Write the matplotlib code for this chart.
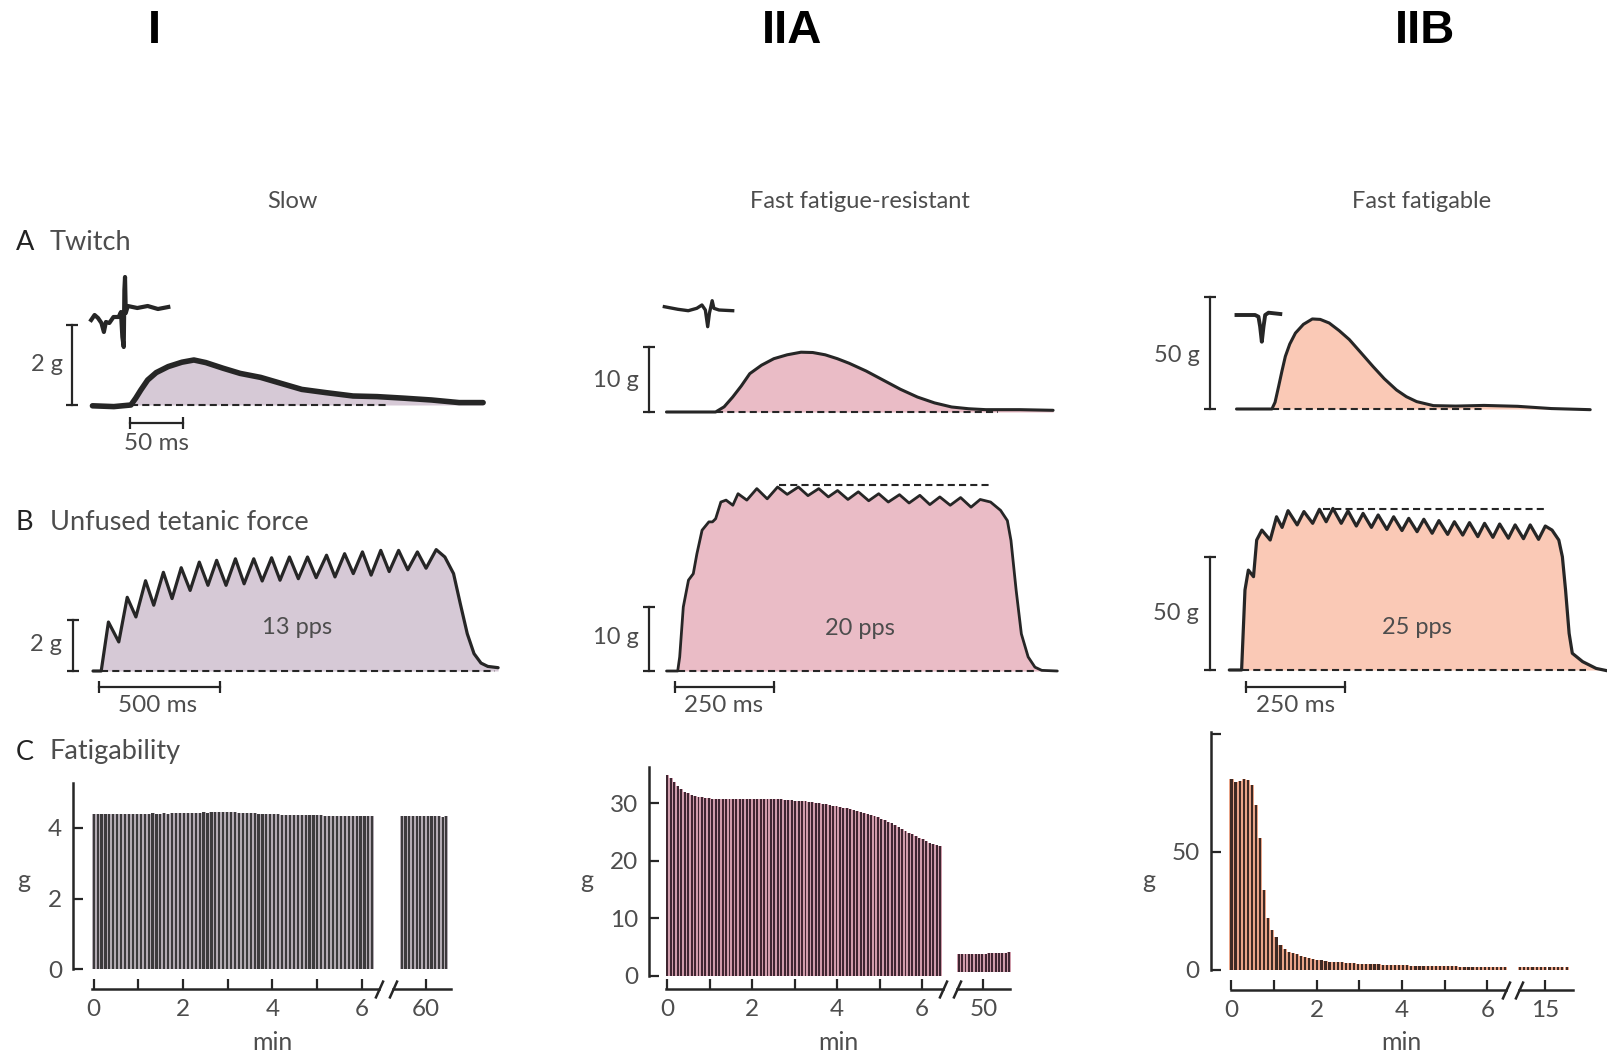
import numpy as np
import matplotlib
matplotlib.use("Agg")
import matplotlib.pyplot as plt

plt.rcParams['font.family'] = ['Lato', 'DejaVu Sans']

W, H = 1608, 1053
INK = '#262626'
TXT = '#4d4d4d'

# ---- A : twitch (time in ms, force in g) ----
slow_twitch_t = [-36, -16, 0, 4.5, 9.3, 15.7, 23.7, 34.9, 47.8, 59, 70.2, 86.2, 102.3, 121.5,
                 140.7, 160, 182.4, 208, 230.4, 256, 281.6, 307.4, 329.8]
slow_twitch_g = [-0.02, -0.04, 0, 0.17, 0.375, 0.625, 0.81, 0.96, 1.07, 1.125, 1.06, 0.92, 0.79, 0.69,
                 0.54, 0.39, 0.31, 0.225, 0.21, 0.17, 0.125, 0.06, 0.06]
fr_twitch_t = [-46, 0, 8, 16, 24, 32, 43, 54.5, 67, 80, 91, 102.6, 114, 125, 141, 157, 173, 189,
               205, 221, 237, 253, 285, 316]
fr_twitch_g = [0, 0, 0.8, 2.3, 4.0, 5.9, 7.2, 8.2, 8.8, 9.2, 9.15, 8.8, 8.2, 7.5, 6.3, 4.9, 3.5, 2.3,
               1.4, 0.77, 0.5, 0.36, 0.36, 0.26]
ff_twitch_t = [-33.7, 0, 3, 6.4, 9.6, 12.8, 17, 22.4, 30, 38.5, 46, 54.5, 64, 73.7, 85, 96.2, 107,
               118.6, 128, 137.8, 153.8, 175, 202, 234, 266, 303]
ff_twitch_g = [0, 0, 3, 10.1, 17, 23.5, 29, 33.9, 37.8, 40.2, 40, 38.4, 35, 31, 25, 19, 13.5,
               8.5, 5.5, 3.3, 1.5, 1.3, 1.6, 1.2, 0.2, -0.3]

# action potentials above the twitches (arbitrary units)
slow_ap_t = [-37.2, -34, -30.8, -27.6, -25.3, -23.4, -20.2, -16.3, -11.5, -9.3, -8, -6.7, -6.1,
             -5.5, -4.8, -2.9, 6, 15.7, 25.3, 35]
slow_ap_v = [-12, -7, -10, -15, -24, -14, -15, -9, -9, -4, -29, -39, 18, 31, -5, 2, 0, 2, -1, 1]
fr_ap_t = [-48, -35.3, -25.6, -17.6, -12.8, -9.6, -7.4, -5.8, -3.2, -1.6, 3.2, 16]
fr_ap_v = [1.3, -1.3, -2.7, -0.3, 3, -2, -18.7, -5.3, 7.3, -0.3, -2, -2.7]
ff_ap_t = [-33.7, -16, -12.8, -11.2, -9.6, -8, -6.4, -3.2, 8]
ff_ap_v = [-7, -7, -8.7, -18.7, -33.7, -18.7, -7, -4.7, -6]

# ---- B : unfused tetanus (time in ms, force in g) ----
slow_tet_t = [-34, 0, 30, 73, 108, 144, 184, 218, 258, 294, 332, 369, 407, 443, 479, 518, 557, 593,
              633, 668, 707, 742, 781, 818, 856, 892, 935, 970, 1010, 1046, 1084, 1120, 1160, 1195,
              1234, 1272, 1312, 1348, 1390, 1426, 1462, 1490, 1519, 1547, 1576, 1604, 1647]
slow_tet_g = [0, 0, 1.92, 1.14, 2.89, 2.12, 3.54, 2.58, 3.87, 2.84, 4.05, 3.16, 4.27, 3.36, 4.34,
              3.36, 4.40, 3.42, 4.40, 3.53, 4.44, 3.56, 4.47, 3.62, 4.47, 3.66, 4.54, 3.69, 4.60,
              3.82, 4.67, 3.76, 4.73, 3.90, 4.73, 3.97, 4.67, 4.03, 4.76, 4.47, 3.82, 2.64, 1.46,
              0.68, 0.31, 0.18, 0.13]
fr_tet_t = [-28, 0, 5, 14, 27, 39, 48, 61, 78, 87, 95, 108, 121, 138, 151, 173, 198, 224, 250, 274,
            302, 326, 353, 377, 400, 426, 452, 478, 503, 527, 555, 579, 606, 631, 656, 682, 708, 734,
            757, 783, 808, 825, 834, 847, 860, 877, 894, 911, 950]
fr_tet_g = [0, 0, 2.2, 10.0, 14.2, 15.2, 18.3, 22.0, 23.3, 23.3, 23.8, 26.4, 26.7, 25.9, 27.7, 26.7,
            28.5, 26.9, 28.75, 27.6, 28.75, 27.4, 28.5, 27.2, 28.2, 26.8, 28.0, 26.6, 27.7, 26.4,
            27.55, 26.25, 27.45, 26.0, 27.2, 25.9, 27.1, 25.6, 26.8, 26.4, 25.1, 23.5, 20.4, 12.6,
            5.8, 2.2, 0.6, 0.1, 0]
ff_tet_t = [-31, 0, 8.5, 17, 30, 38, 51, 72, 88, 102, 117, 140, 157, 179, 196, 213, 230, 251, 268,
            289, 306, 327, 344, 366, 383, 404, 421, 442, 459, 480, 497, 519, 536, 557, 574, 595, 612,
            633, 650, 672, 689, 710, 727, 748, 765, 782, 799, 808, 816, 825, 833, 859, 893, 931]
ff_tet_g = [0, 0, 35.4, 44.2, 41.3, 57.5, 61.9, 57.5, 67.8, 63.1, 70.5, 64.2, 70.1, 64.9, 71.1,
            65.6, 71.5, 64.9, 70.4, 63.7, 69.3, 63.1, 68.6, 62.2, 67.8, 61.7, 67.1, 61.2, 66.7, 60.5,
            66.1, 60.0, 65.6, 59.7, 65.2, 59.0, 64.9, 58.7, 64.6, 58.3, 64.2, 58.1, 64.2, 57.8, 63.7,
            61.9, 57.5, 50.1, 35.4, 16.2, 7.4, 3.7, 0.7, -0.7]
fr_tet_max = [253, 783, 29.0]
ff_tet_max = [204, 761, 71.1]

# ---- C : fatigability (peak force of each train, g) ----
slow_fat = [4.40, 4.41, 4.40, 4.41, 4.40, 4.41, 4.41, 4.40, 4.41, 4.41,
            4.41, 4.40, 4.41, 4.41, 4.41, 4.42, 4.41, 4.41, 4.42, 4.41,
            4.42, 4.42, 4.42, 4.43, 4.42, 4.43, 4.43, 4.43, 4.44, 4.43,
            4.44, 4.44, 4.44, 4.45, 4.44, 4.44, 4.44, 4.43, 4.43, 4.42,
            4.42, 4.42, 4.41, 4.41, 4.40, 4.40, 4.39, 4.39, 4.38, 4.38,
            4.38, 4.37, 4.37, 4.37, 4.36, 4.36, 4.36, 4.36, 4.36, 4.35,
            4.35, 4.35, 4.35, 4.35, 4.35, 4.34, 4.35, 4.35, 4.34, 4.35,
            4.35, 4.35]
slow_fat_late = [4.35, 4.34, 4.34, 4.33, 4.34, 4.34, 4.33, 4.33, 4.34, 4.33, 4.33, 4.32, 4.33]
fr_fat = [34.9, 34.3, 33.6, 32.9, 32.4, 32.0, 31.7, 31.45, 31.25, 31.1,
          31.0, 30.9, 30.85, 30.8, 30.75, 30.7, 30.7, 30.7, 30.7, 30.7,
          30.7, 30.7, 30.7, 30.7, 30.7, 30.7, 30.7, 30.7, 30.7, 30.7,
          30.7, 30.7, 30.7, 30.68, 30.6, 30.55, 30.5, 30.45, 30.4, 30.35,
          30.3, 30.25, 30.15, 30.1, 30.0, 29.9, 29.8, 29.7, 29.6, 29.5,
          29.35, 29.2, 29.1, 29.0, 28.85, 28.7, 28.5, 28.3, 28.15, 27.95,
          27.75, 27.55, 27.3, 27.05, 26.8, 26.55, 26.25, 25.9, 25.6, 25.25,
          24.9, 24.6, 24.3, 24.0, 23.7, 23.4, 23.15, 22.9, 22.7, 22.5]
fr_fat_late = [3.8, 3.8, 3.85, 3.85, 3.85, 3.9, 3.9, 3.9, 3.9, 3.95, 3.95, 3.95, 4.0, 4.0, 4.05, 4.1]
ff_fat = [80.8, 79.8, 80.2, 80.8, 80.3, 78.5, 70.0, 56.0, 34.0, 22.0,
          17.0, 14.0, 10.5, 8.8, 7.8, 7.1, 6.6, 6.1, 5.6, 5.1,
          4.7, 4.4, 4.1, 3.9, 3.6, 3.45, 3.3, 3.2, 3.1, 2.95,
          2.85, 2.7, 2.6, 2.5, 2.45, 2.4, 2.35, 2.3, 2.25, 2.2,
          2.15, 2.05, 2.0, 1.95, 1.9, 1.8, 1.8, 1.75, 1.7, 1.7,
          1.65, 1.6, 1.6, 1.55, 1.5, 1.5, 1.45, 1.4, 1.4, 1.4,
          1.4, 1.4, 1.4, 1.4, 1.4, 1.4, 1.4, 1.4]
ff_fat_late = [1.3, 1.2, 1.3, 1.2, 1.2, 1.3, 1.2, 1.2, 1.3, 1.3, 1.3, 1.4]

# first and last train time of each block (min)
slow_span, slow_span_late = (0.0, 6.24), (59.45, 60.45)
fr_span, fr_span_late = (0.0, 6.42), (49.42, 50.6)
ff_span, ff_span_late = (0.0, 6.42), (14.40, 15.50)

columns = ['I', 'IIA', 'IIB']
titles = ['Slow', 'Fast fatigue-resistant', 'Fast fatigable']
fills = ['#d6c9d6', '#eabcc6', '#fac9b6']

fig = plt.figure(figsize=(W / 100, H / 100), dpi=100)


def panel(box, xo, sx, yo, sy, off=True):
    # axes placed on a pixel box, with a given origin and scale
    x0, y0, x1, y1 = box
    ax = fig.add_axes([x0 / W, 1 - y1 / H, (x1 - x0) / W, (y1 - y0) / H])
    ax.set_xlim((x0 - xo) / sx, (x1 - xo) / sx)
    ax.set_ylim((yo - y1) / sy, (yo - y0) / sy)
    if off:
        ax.axis('off')
    return ax


def vbar(ax, x, y0, y1, label, lx, ly):
    ax.plot([x, x], [y0, y1], color=INK, lw=1.6)
    ax.plot([x, x], [y0, y1], ls='none', marker='_', ms=9, mew=1.6, color=INK)
    ax.text(lx, ly, label, ha='right', va='center', fontsize=17, color=TXT)


def hbar(ax, x0, x1, y, label, lx, ly):
    ax.plot([x0, x1], [y, y], color=INK, lw=1.6)
    ax.plot([x0, x1], [y, y], ls='none', marker='|', ms=8, mew=1.6, color=INK)
    ax.text(lx, ly, label, ha='center', va='center', fontsize=17.5, color=TXT)


def trace(ax, t, g, color, lw, base_end):
    g = np.array(g)
    ax.fill_between(t, 0, np.clip(g, 0, None), color=color, lw=0)
    ax.plot([0, base_end], [0, 0], color=INK, lw=1.5, dashes=(3.4, 2.0))
    ax.plot(t, g, color=INK, lw=lw, solid_joinstyle='round', solid_capstyle='round')


# titles
for x, c in zip([154, 792, 1425], columns):
    fig.text(x / W, 1 - 31 / H, c, ha='center', va='center', fontsize=34,
             fontweight='bold', family='Liberation Sans', color='black')
for x, t in zip([292.7, 860.2, 1421.8], titles):
    fig.text(x / W, 1 - 202 / H, t, ha='center', va='center', fontsize=17, color=TXT)
for y, letter, name in [(242, 'A', 'Twitch'), (522, 'B', 'Unfused tetanic force'),
                        (752, 'C', 'Fatigability')]:
    fig.text(16 / W, 1 - y / H, letter, ha='left', va='center', fontsize=19.5, color='#222222')
    fig.text(50 / W, 1 - y / H, name, ha='left', va='center', fontsize=19.5, color=TXT)

# A: twitch
ax = panel((40, 255, 500, 455), 130.9, 1.068, 405, 40)
trace(ax, slow_twitch_t, slow_twitch_g, fills[0], 4.0, 240)
vbar(ax, -55, 0, 2, '2 g', -64, 1.0)
hbar(ax, -1, 49, -0.45, '50 ms', 24, -0.97)
ap = panel((40, 255, 500, 455), 130.9, 1.068, 308, 1)
ap.plot(slow_ap_t, slow_ap_v, color=INK, lw=3.0, solid_joinstyle='round')

ax = panel((590, 255, 1070, 455), 715.6, 1.068, 412, 6.5)
trace(ax, fr_twitch_t, fr_twitch_g, fills[1], 2.2, 264)
vbar(ax, -62.5, 0, 10, '10 g', -72, 4.9)
ap = panel((590, 255, 1070, 455), 715.6, 1.068, 308, 1)
ap.plot(fr_ap_t, fr_ap_v, color=INK, lw=2.4, solid_joinstyle='round')

ax = panel((1150, 255, 1600, 455), 1271.9, 1.0505, 409, 2.24)
trace(ax, ff_twitch_t, ff_twitch_g, fills[2], 2.2, 200)
vbar(ax, -58.7, 0, 50, '50 g', -69, 24.1)
ap = panel((1150, 255, 1600, 455), 1271.9, 1.0505, 308, 1)
ap.plot(ff_ap_t, ff_ap_v, color=INK, lw=2.8, solid_joinstyle='round')

# B: unfused tetanus
ax = panel((40, 470, 510, 715), 101.2, 0.241, 671, 25.5)
trace(ax, slow_tet_t, slow_tet_g, fills[0], 2.3, 1632)
vbar(ax, -115, 0, 2, '2 g', -162, 1.02)
hbar(ax, -8.5, 491.5, -0.63, '500 ms', 235, -1.35)
ax.text(812, 1.69, '13 pps', ha='center', va='center', fontsize=17, color=TXT)

ax = panel((590, 470, 1070, 715), 677.7, 0.3996, 671, 6.4)
trace(ax, fr_tet_t, fr_tet_g, fills[1], 2.0, 894)
ax.plot(fr_tet_max[:2], [fr_tet_max[2]] * 2, color=INK, lw=1.5, dashes=(3.4, 2.0))
vbar(ax, -72, 0, 10, '10 g', -98, 5.3)
hbar(ax, -8, 242, -2.5, '250 ms', 116, -5.4)
ax.text(456, 6.7, '20 pps', ha='center', va='center', fontsize=17, color=TXT)

ax = panel((1150, 470, 1608, 715), 1241.6, 0.397, 670, 2.26)
trace(ax, ff_tet_t, ff_tet_g, fills[2], 2.3, 867)
ax.plot(ff_tet_max[:2], [ff_tet_max[2]] * 2, color=INK, lw=1.5, dashes=(3.4, 2.0))
vbar(ax, -79, 0, 50, '50 g', -107, 25.2)
hbar(ax, 10, 260, -7.5, '250 ms', 135, -15.8)
ax.text(441, 19, '25 pps', ha='center', va='center', fontsize=17, color=TXT)


# C: fatigability, broken time axis
def slash(ax, x):
    tr = ax.spines['bottom'].get_spine_transform()
    ax.plot([x], [0], transform=tr, marker=[(-0.45, -1), (0.45, 1)], ms=13, mew=1.8,
            color=INK, clip_on=False)


def fatigue(boxes, origins, sy, yo, out_px, early, span, late, span_late, light, dark,
            yticks, ytl, late_bottom, bounds, xt_late, ylab_x, min_x):
    (bl, br), (xl, xr) = boxes, origins
    axl = panel(bl, xl[0], xl[1], yo, sy, off=False)
    axr = panel(br, xr[0], xr[1], yo, sy, off=False)
    t = np.linspace(span[0], span[1], len(early))
    step = t[1] - t[0]
    axl.bar(t, early, width=step, color=light, lw=0)
    axl.bar(t, early, width=step * 0.55, color=dark, lw=0)
    tl = np.linspace(span_late[0], span_late[1], len(late))
    hl = np.array(late) - late_bottom
    axr.bar(tl, hl, bottom=late_bottom, width=step, color=light, lw=0)
    axr.bar(tl, hl, bottom=late_bottom, width=step * 0.55, color=dark, lw=0)
    for a, b in [(axl, bounds[0]), (axr, bounds[1])]:
        for s in ['top', 'right']:
            a.spines[s].set_visible(False)
        a.spines['bottom'].set_position(('outward', out_px * 0.72))
        a.spines['bottom'].set_bounds(*b)
        a.spines['bottom'].set_linewidth(1.8)
        a.spines['bottom'].set_color(INK)
        a.tick_params(axis='x', direction='in', length=7.5, width=1.6, colors=INK,
                      labelcolor=TXT, labelsize=17.5, pad=7)
        a.patch.set_alpha(0)
    axr.spines['left'].set_visible(False)
    axr.set_yticks([])
    axl.spines['left'].set_linewidth(1.8)
    axl.spines['left'].set_color(INK)
    axl.set_yticks(yticks)
    axl.set_yticklabels(ytl)
    axl.tick_params(axis='y', direction='in', length=7, width=1.6, colors=INK,
                    labelcolor=TXT, labelsize=17.5, pad=8)
    axl.set_xticks(range(7))
    axl.set_xticklabels(['0', '', '2', '', '4', '', '6'])
    axr.set_xticks([xt_late])
    axr.set_xticklabels([str(xt_late)])
    slash(axl, bounds[0][1])
    slash(axr, bounds[1][0])
    fig.text(ylab_x / W, 1 - 880 / H, 'g', ha='center', va='center', fontsize=18, color=TXT)
    fig.text(min_x / W, 1 - 1042 / H, 'min', ha='center', va='center', fontsize=18, color=TXT)


fatigue(((73, 783, 385.7, 969), (385.7, 783, 455, 969)),
        ((93.7, 44.65), (426.3 - 60 * 44.65, 44.65)),
        35.25, 969, 20, slow_fat, slow_span, slow_fat_late, slow_span_late,
        '#b3abb3', '#3c3a3c', [0, 2, 4], ['0', '2', '4'], 0,
        ((-0.03, 6.385), (59.245, 60.56)), 60, 24, 272)
fatigue(((649.5, 767, 949.8, 976), (949.8, 767, 1020, 976)),
        ((667.4, 42.47), (983.5 - 50 * 42.47, 42.47)),
        5.76, 976, 13, fr_fat, fr_span, fr_fat_late, fr_span_late,
        '#cf9cab', '#3f2631', [0, 10, 20, 30], ['0', '10', '20', '30'], 0.7,
        ((-0.04, 6.49), (49.37, 50.62)), 50, 586.5, 838)
fatigue(((1210.6, 732, 1512.6, 970), (1512.6, 732, 1590, 970)),
        ((1231.5, 42.65), (1545.3 - 15 * 42.65, 42.65)),
        2.36, 970, 20, ff_fat, ff_span, ff_fat_late, ff_span_late,
        '#e9a488', '#3e2a24', [0, 50, 100], ['0', '50', ''], 0,
        ((-0.02, 6.43), (14.39, 15.66)), 15, 1149, 1401.5)

fig.savefig('out.png', dpi=100, facecolor='white')
